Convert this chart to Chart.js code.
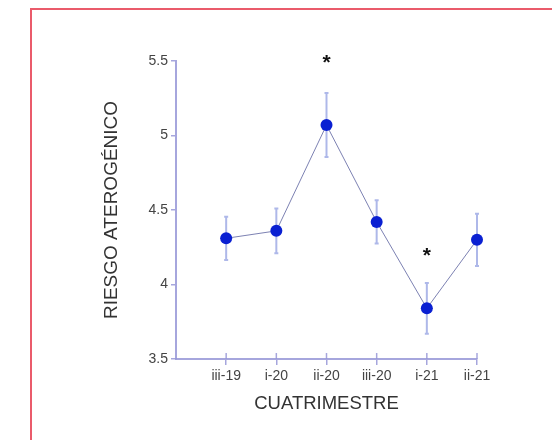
<!DOCTYPE html>
<html>
<head>
<meta charset="utf-8">
<script src="https://cdn.jsdelivr.net/npm/chart.js@4/dist/chart.umd.min.js"></script>
<style>
  html, body { margin: 0; padding: 0; background: #ffffff; }
  #wrap { position: relative; width: 552px; height: 440px; overflow: hidden; }
  #frame { position: absolute; left: 30px; top: 8px; width: 600px; height: 500px;
           border-left: 2px solid #ea5b6b; border-top: 2px solid #ea5b6b; box-sizing: border-box; }
  canvas { position: absolute; left: 0; top: 0; }
</style>
</head>
<body>
<div id="wrap">
  <div id="frame"></div>
  <canvas id="c" width="552" height="440"></canvas>
</div>
<script>
// ---- data ----
const categories = ['iii-19', 'i-20', 'ii-20', 'iii-20', 'i-21', 'ii-21'];
const riesgo = [4.31, 4.36, 5.07, 4.42, 3.84, 4.30];
const errorSE = [0.145, 0.15, 0.215, 0.145, 0.17, 0.175];
const asteriskAt = [null, null, 5.51, null, 4.21, null];
const yTicks = [3.5, 4, 4.5, 5, 5.5];

const axisColor = 'rgba(150,150,215,0.85)';
const errColor = 'rgba(170,180,232,0.95)';
const fontFam = "'Liberation Sans', Arial, sans-serif";

const points = riesgo.map((v, i) => ({ x: i + 1, y: v }));

const errorBarPlugin = {
  id: 'errorBars',
  beforeDatasetsDraw(chart) {
    const { ctx, scales: { x, y } } = chart;
    ctx.save();
    // inner halves of x ticks (ticks cross the axis)
    ctx.strokeStyle = axisColor;
    ctx.lineWidth = 1.5;
    categories.forEach((c, i) => {
      const px = x.getPixelForValue(i + 1);
      ctx.beginPath();
      ctx.moveTo(px, y.bottom);
      ctx.lineTo(px, y.bottom - 6);
      ctx.stroke();
    });
    // error bars
    ctx.strokeStyle = errColor;
    ctx.lineWidth = 2;
    riesgo.forEach((v, i) => {
      const px = x.getPixelForValue(i + 1);
      const top = y.getPixelForValue(v + errorSE[i]);
      const bot = y.getPixelForValue(v - errorSE[i]);
      ctx.beginPath();
      ctx.moveTo(px, top); ctx.lineTo(px, bot);
      ctx.moveTo(px - 2, top); ctx.lineTo(px + 2, top);
      ctx.moveTo(px - 2, bot); ctx.lineTo(px + 2, bot);
      ctx.stroke();
    });
    ctx.restore();
  },
  afterDatasetsDraw(chart) {
    const { ctx, scales: { x, y } } = chart;
    ctx.save();
    ctx.fillStyle = '#111';
    ctx.font = 'bold 21px ' + fontFam;
    ctx.textAlign = 'center';
    ctx.textBaseline = 'alphabetic';
    asteriskAt.forEach((v, i) => {
      if (v === null) return;
      const px = x.getPixelForValue(i + 1);
      const py = y.getPixelForValue(v);
      ctx.fillText('*', px, py + 9);
    });
    ctx.restore();
  }
};

new Chart(document.getElementById('c'), {
  type: 'line',
  data: {
    datasets: [{
      data: points,
      borderColor: 'rgba(110,115,170,0.9)',
      borderWidth: 1,
      pointBackgroundColor: '#0a20d2',
      pointBorderColor: '#0a20d2',
      pointRadius: 6,
      pointBorderWidth: 0,
      tension: 0,
      clip: false
    }]
  },
  options: {
    responsive: false,
    animation: false,
    events: [],
    layout: { padding: { left: 0, top: 61, right: 75, bottom: 0 } },
    plugins: { legend: { display: false }, tooltip: { enabled: false } },
    scales: {
      x: {
        type: 'linear',
        min: 0, max: categories.length,
        afterFit(s) { s.height = 81; },
        afterBuildTicks(s) { s.ticks = categories.map((c, i) => ({ value: i + 1 })); },
        ticks: {
          callback: (v) => categories[v - 1] || '',
          color: '#444', font: { family: fontFam, size: 14 }, padding: 3,
          maxRotation: 0, autoSkip: false
        },
        grid: { drawOnChartArea: false, drawTicks: true, tickLength: 6, color: axisColor, lineWidth: 1.5 },
        border: { display: true, color: axisColor, width: 2 },
        title: { display: true, text: 'CUATRIMESTRE', color: '#333',
                 font: { family: fontFam, size: 18.5 }, padding: { top: 0, bottom: 25 } }
      },
      y: {
        min: yTicks[0], max: yTicks[yTicks.length - 1],
        afterFit(s) { s.width = 176; },
        afterBuildTicks(s) { s.ticks = yTicks.map(v => ({ value: v })); },
        ticks: { callback: (v) => String(v), color: '#444', font: { family: fontFam, size: 14 }, padding: 3 },
        grid: { drawOnChartArea: false, drawTicks: true, tickLength: 5, color: axisColor, lineWidth: 1.5 },
        border: { display: true, color: axisColor, width: 2 },
        title: { display: true, text: 'RIESGO ATEROGÉNICO', color: '#333',
                 font: { family: fontFam, size: 19 }, padding: { top: 100, bottom: 0 } }
      }
    }
  },
  plugins: [errorBarPlugin]
});
</script>
</body>
</html>
